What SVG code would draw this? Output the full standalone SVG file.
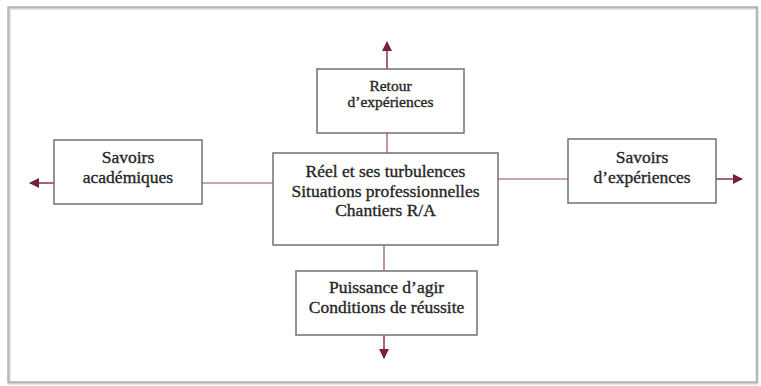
<svg xmlns="http://www.w3.org/2000/svg" width="761" height="386" viewBox="0 0 761 386">
<defs>
<marker id="ah" viewBox="0 0 10 10" refX="9" refY="5" markerWidth="10" markerHeight="10" markerUnits="userSpaceOnUse" orient="auto">
<path d="M0,0 L10,5 L0,10 z" fill="#7b1f3f"/>
</marker>
</defs>
<style>
.box{fill:#fff;stroke:#707070;stroke-width:1.5}
.t{font-family:"Liberation Serif","Times New Roman",serif;font-size:17.5px;fill:#262626;stroke:#262626;stroke-width:0.35;text-anchor:middle}
.s{font-size:15.5px}
.c{stroke:#9b4d66;stroke-width:1.2;fill:none}
.a{stroke:#8b3050;stroke-width:1.5;fill:none;marker-end:url(#ah)}
</style>
<rect x="0" y="0" width="761" height="386" fill="#fff"/>
<rect x="9" y="8" width="748" height="375" fill="none" stroke="#cfcfcf" stroke-width="3"/>
<rect x="8" y="7" width="749" height="375" fill="none" stroke="#a0a0a0" stroke-width="1"/>
<g id="connectors">
<line class="c" x1="202" y1="183" x2="273" y2="183"/>
<line class="c" x1="498" y1="179" x2="568" y2="179"/>
<line class="c" x1="387" y1="133" x2="387" y2="153"/>
<line class="c" x1="384" y1="245" x2="384" y2="271"/>
<line class="a" x1="387" y1="69" x2="387" y2="42"/>
<line class="a" x1="54" y1="183" x2="30" y2="183"/>
<line class="a" x1="716" y1="179" x2="742" y2="179"/>
<line class="a" x1="384" y1="335" x2="384" y2="358"/>
</g>
<g id="retour">
<rect class="box" x="317" y="69" width="147" height="64"/>
<text class="t s" x="390.5" y="91">Retour</text>
<text class="t s" x="390.5" y="107">d’expériences</text>
</g>
<g id="savoirs-academiques">
<rect class="box" x="54" y="140" width="148" height="64"/>
<text class="t" x="128" y="163">Savoirs</text>
<text class="t" x="128" y="183">académiques</text>
</g>
<g id="reel">
<rect class="box" x="273" y="153" width="225" height="92"/>
<text class="t" x="385.5" y="177">Réel et ses turbulences</text>
<text class="t" x="385.5" y="197">Situations professionnelles</text>
<text class="t" x="385.5" y="216">Chantiers R/A</text>
</g>
<g id="savoirs-experiences">
<rect class="box" x="568" y="139" width="148" height="64"/>
<text class="t" x="642" y="163">Savoirs</text>
<text class="t" x="642" y="183">d’expériences</text>
</g>
<g id="puissance">
<rect class="box" x="296" y="271" width="181" height="64"/>
<text class="t" x="386.5" y="293">Puissance d’agir</text>
<text class="t" x="386.5" y="313">Conditions de réussite</text>
</g>
</svg>
